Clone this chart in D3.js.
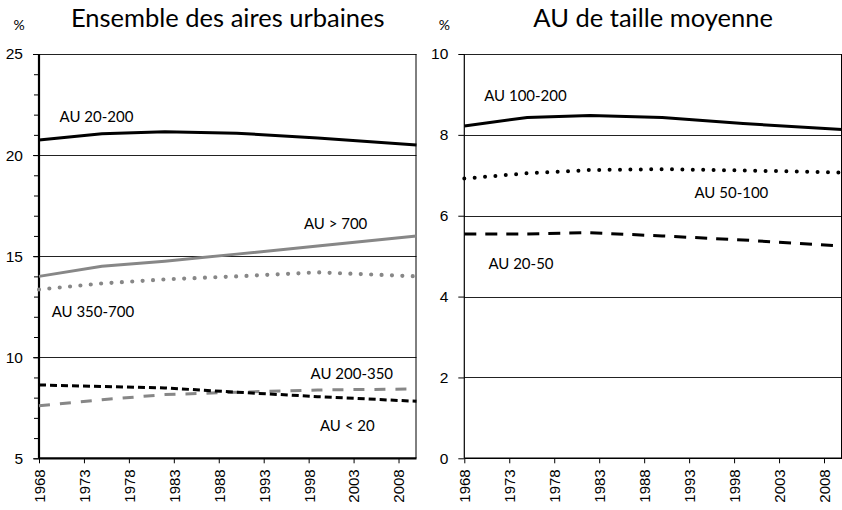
<!DOCTYPE html>
<html>
<head>
<meta charset="utf-8">
<script src="https://cdn.jsdelivr.net/npm/d3@7"></script>
<style>
    body { margin: 0; background: #fff; }
    svg { display: block; font-family: Lato, "Open Sans", sans-serif; }
</style>
</head>
<body>
<div id="chart"></div>
<script>
// census years
const years = [1968, 1975, 1982, 1990, 1999, 2010];
const yearTicks = [1968, 1973, 1978, 1983, 1988, 1993, 1998, 2003, 2008];

// left panel: share of population, all urban areas (%)
const au20to200 = [20.75, 21.05, 21.15, 21.08, 20.85, 20.5];
const auOver700 = [14.0, 14.5, 14.75, 15.1, 15.5, 16.0];
const au350to700 = [13.35, 13.65, 13.85, 14.0, 14.2, 14.0];
const au200to350 = [7.6, 7.9, 8.15, 8.27, 8.38, 8.43];
const auUnder20 = [8.63, 8.55, 8.48, 8.27, 8.05, 7.82];
const leftTicks = [5, 10, 15, 20, 25];

// right panel: mid-sized urban areas (%)
const au100to200 = [8.22, 8.43, 8.48, 8.43, 8.28, 8.13];
const au50to100 = [6.92, 7.05, 7.13, 7.15, 7.12, 7.07];
const au20to50 = [5.55, 5.55, 5.58, 5.5, 5.4, 5.25];
const rightTicks = [0, 2, 4, 6, 8, 10];

const width = 842;
const height = 510;
const grey = '#878787';

const styles = {
    solidBlack: { stroke: '#000', width: 3, dash: null, cap: 'butt' },
    solidGrey: { stroke: grey, width: 3, dash: null, cap: 'butt' },
    dotGrey: { stroke: grey, width: 4.2, dash: '0 10.4', cap: 'round' },
    dotBlack: { stroke: '#000', width: 4, dash: '0 10.4', cap: 'round' },
    dashGrey: { stroke: grey, width: 3, dash: '11 10', cap: 'butt' },
    dashBlack: { stroke: '#000', width: 3, dash: '7 4', cap: 'butt' },
    longDashBlack: { stroke: '#000', width: 3, dash: '12 9', cap: 'butt' }
};

const panels = [
    {
        title: 'Ensemble des aires urbaines',
        left: 39, right: 416.5,
        yDomain: [5, 25], ticks: leftTicks, minor: 1, thickAxis: true,
        series: [
            { name: 'AU 20-200', values: au20to200, style: 'solidBlack', at: [1974.4, 21.88] },
            { name: 'AU > 700', values: auOver700, style: 'solidGrey', at: [2001, 16.63] },
            { name: 'AU 350-700', values: au350to700, style: 'dotGrey', at: [1974, 12.28] },
            { name: 'AU 200-350', values: au200to350, style: 'dashGrey', at: [2002.8, 9.2] },
            { name: 'AU < 20', values: auUnder20, style: 'dashBlack', at: [2002.3, 6.6] }
        ]
    },
    {
        title: 'AU de taille moyenne',
        left: 464.3, right: 842,
        yDomain: [0, 10], ticks: rightTicks, minor: null, thickAxis: false,
        series: [
            { name: 'AU 100-200', values: au100to200, style: 'solidBlack', at: [1974.8, 8.97] },
            { name: 'AU 50-100', values: au50to100, style: 'dotBlack', at: [1997.7, 6.58] },
            { name: 'AU 20-50', values: au20to50, style: 'longDashBlack', at: [1974.3, 4.82] }
        ]
    }
];

const plotTop = 54;
const plotBottom = 458.3;

const svg = d3
    .select('#chart')
    .append('svg')
    .attr('width', width)
    .attr('height', height);

panels.forEach(function (p) {
    const x = d3.scaleLinear().domain([1968, 2010]).range([p.left, p.right]);
    const y = d3.scaleLinear().domain(p.yDomain).range([plotBottom, plotTop]);
    const g = svg.append('g');

    // title and unit
    g.append('text')
        .attr('x', (p.left + p.right) / 2)
        .attr('y', 27)
        .attr('text-anchor', 'middle')
        .style('font-size', '25.5px')
        .text(p.title);
    g.append('text')
        .attr('x', p.left - 20)
        .attr('y', 30)
        .attr('text-anchor', 'middle')
        .style('font-size', '14px')
        .text('%');

    // horizontal grid
    g.selectAll('.grid')
        .data(p.ticks.slice(1))
        .enter()
        .append('line')
        .attr('x1', p.left)
        .attr('x2', p.right)
        .attr('y1', function (d) { return Math.round(y(d)) + 0.5; })
        .attr('y2', function (d) { return Math.round(y(d)) + 0.5; })
        .attr('stroke', '#222')
        .attr('stroke-width', 1);

    // right border
    g.append('line')
        .attr('x1', p.right - 0.5)
        .attr('x2', p.right - 0.5)
        .attr('y1', y(p.yDomain[1]))
        .attr('y2', plotBottom)
        .attr('stroke', '#000');

    // y axis
    const yAxis = g.append('g')
        .attr('transform', 'translate(' + p.left + ',0)')
        .call(d3.axisLeft(y).tickValues(p.ticks).tickSize(6).tickPadding(10).tickFormat(d3.format('d')));
    if (p.minor) {
        g.append('g')
            .attr('transform', 'translate(' + p.left + ',0)')
            .call(d3.axisLeft(y).tickValues(d3.range(p.yDomain[0], p.yDomain[1], p.minor)).tickSize(5).tickFormat(''))
            .call(function (a) { a.select('.domain').remove(); });
    }
    yAxis.select('.domain')
        .attr('d', 'M0,' + plotTop + 'V' + plotBottom)
        .attr('stroke-width', p.thickAxis ? 2.2 : 1.2);
    yAxis.selectAll('text').style('font-size', '15.5px').attr('fill', '#000');

    // x axis
    const xAxis = g.append('g')
        .attr('transform', 'translate(0,' + plotBottom + ')')
        .call(d3.axisBottom(x).tickValues(yearTicks).tickSize(5).tickFormat(d3.format('d')));
    xAxis.select('.domain')
        .attr('d', 'M' + p.left + ',0H' + p.right)
        .attr('stroke-width', p.thickAxis ? 2.2 : 1.5);
    xAxis.selectAll('text')
        .style('font-size', '15px')
        .attr('fill', '#000')
        .attr('text-anchor', 'end')
        .attr('transform', 'rotate(-90)')
        .attr('x', -11)
        .attr('y', 0)
        .attr('dy', '0.36em');

    // series
    const line = d3.line()
        .x(function (d, i) { return x(years[i]); })
        .y(function (d) { return y(d); });

    p.series.forEach(function (s) {
        const st = styles[s.style];
        g.append('path')
            .attr('d', line(s.values))
            .attr('fill', 'none')
            .attr('stroke', st.stroke)
            .attr('stroke-width', st.width)
            .attr('stroke-dasharray', st.dash)
            .attr('stroke-linecap', st.cap)
            .attr('stroke-linejoin', 'round');

        g.append('text')
            .attr('x', x(s.at[0]))
            .attr('y', y(s.at[1]))
            .attr('dy', '0.36em')
            .attr('text-anchor', 'middle')
            .style('font-size', '15px')
            .text(s.name);
    });
});
</script>
</body>
</html>
